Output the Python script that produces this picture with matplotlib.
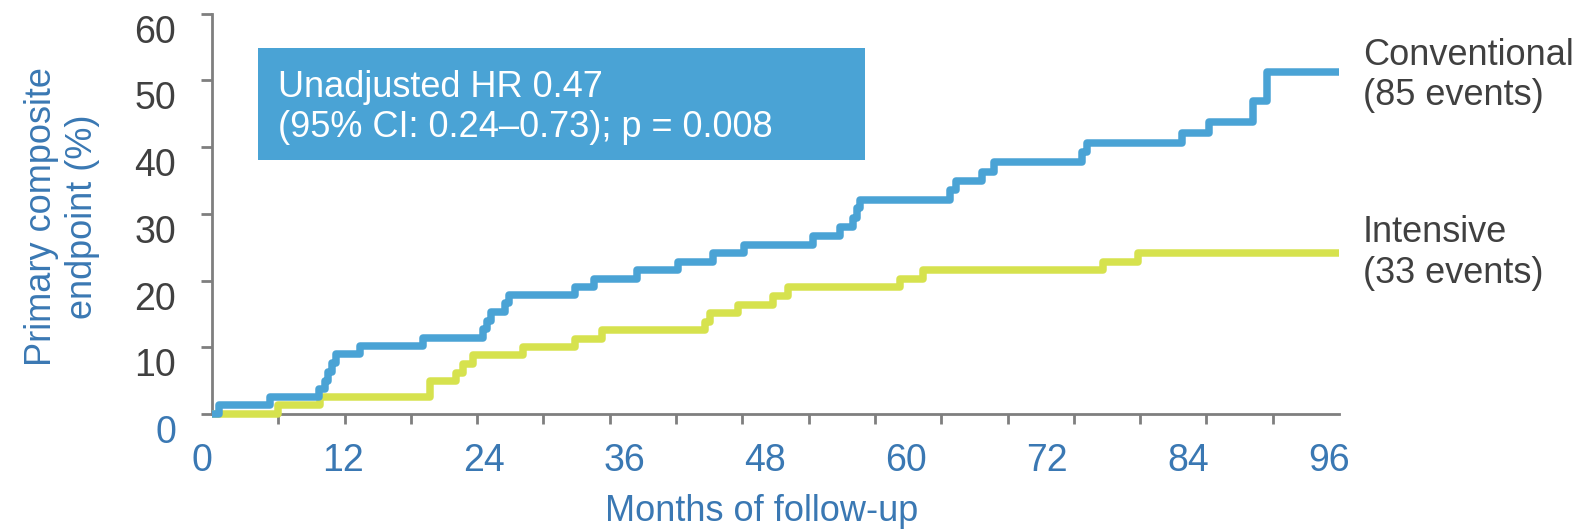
import numpy as np
import matplotlib
matplotlib.use("Agg")
from matplotlib import pyplot as plt
from matplotlib.patches import Rectangle
import matplotlib.transforms as mtransforms

plt.rcParams['font.family'] = ['Liberation Sans', 'DejaVu Sans']

# cumulative incidence (%) at each event time (months)
conv_months = [0, 0.6, 4.9, 9.1, 9.6, 9.9, 10.2, 10.6, 12.6, 18.0, 23.1, 23.4, 23.8,
               25.0, 25.3, 30.9, 32.5, 36.2, 39.7, 42.7, 45.3, 51.2, 53.5, 54.6, 54.9,
               55.2, 62.9, 63.4, 65.6, 66.6, 74.1, 74.5, 82.6, 84.9, 88.7, 89.9, 96]
conv_pct = [0, 1.3, 2.6, 3.7, 5.0, 6.3, 7.6, 9.0, 10.2, 11.4, 12.7, 14.0, 15.3,
            16.6, 17.8, 19.1, 20.3, 21.6, 22.8, 24.1, 25.3, 26.6, 28.0, 29.4, 30.8,
            32.1, 33.5, 34.9, 36.3, 37.8, 39.3, 40.6, 42.1, 43.8, 46.9, 51.2, 51.2]

int_months = [0, 5.65, 9.2, 18.6, 20.8, 21.4, 22.2, 26.5, 30.9, 33.2, 42.0, 42.4,
              44.8, 47.8, 49.1, 58.6, 60.6, 75.9, 78.9, 96]
int_pct = [0, 1.3, 2.6, 4.9, 6.2, 7.5, 8.8, 10.1, 11.3, 12.6, 13.8, 15.1,
           16.4, 17.7, 19.0, 20.3, 21.6, 22.8, 24.1, 24.1]

x_ticks = list(range(0, 97, 12))
y_ticks = list(range(0, 61, 10))

BLUE = '#4aa3d5'
GREEN = '#d6e24e'
AXBLUE = '#3a78b3'
GREY = '#404040'
SPINE = '#7f7f7f'
FS = 26
TICK_FS = 27

fig = plt.figure(figsize=(15.88, 5.31), dpi=100)
ax = fig.add_axes([0.1335, 0.2203, 0.7097, 0.7542])

ax.step(int_months, int_pct, where='post', color=GREEN, lw=5.4,
        solid_joinstyle='round', solid_capstyle='butt', clip_on=False, zorder=3)
ax.step(conv_months, conv_pct, where='post', color=BLUE, lw=5.4,
        solid_joinstyle='round', solid_capstyle='butt', clip_on=False, zorder=4)

ax.set_xlim(0, 96)
ax.set_ylim(0, 60)
for s in ['top', 'right']:
    ax.spines[s].set_visible(False)
for s in ['left', 'bottom']:
    ax.spines[s].set_color(SPINE)
    ax.spines[s].set_linewidth(2)

# x axis: labels every 12 months, tick marks on their own spacing
ax.set_xticks(x_ticks)
ax.set_xticklabels([str(v) for v in x_ticks])
ax.set_xticks(np.linspace(0, 96, 18), minor=True)
ax.tick_params(axis='x', which='major', length=0, pad=21, labelsize=TICK_FS, labelcolor=AXBLUE)
ax.tick_params(axis='x', which='minor', length=7, width=2, color=SPINE, direction='out')
xshift = mtransforms.ScaledTranslation(-10 / 100, 0, fig.dpi_scale_trans)
for lab in ax.get_xticklabels():
    lab.set_transform(lab.get_transform() + xshift)

# y labels sit a little below their tick marks
ax.set_yticks(y_ticks)
ax.set_yticklabels([str(v) for v in y_ticks])
ax.tick_params(axis='y', length=8, width=2, color=SPINE, pad=18, labelsize=TICK_FS, labelcolor=GREY)
yshift = mtransforms.ScaledTranslation(0, -15 / 100, fig.dpi_scale_trans)
for lab in ax.get_yticklabels():
    lab.set_transform(lab.get_transform() + yshift)
ax.get_yticklabels()[0].set_color(AXBLUE)

fig.text(0.039, 0.592, 'Primary composite\nendpoint (%)', rotation=90, ha='center',
         va='center', fontsize=FS, color=AXBLUE, linespacing=1.25)
fig.text(0.4795, 0.019, 'Months of follow-up', ha='center', va='baseline',
         fontsize=FS, color=AXBLUE)

# hazard ratio box
ax.add_patch(Rectangle((0.0408, 0.634), 0.539, 0.281, transform=ax.transAxes,
                       facecolor=BLUE, edgecolor='none', zorder=5, clip_on=False))
ax.text(0.0586, 0.765, 'Unadjusted HR 0.47\n(95% CI: 0.24\u20130.73); p = 0.008',
        transform=ax.transAxes, ha='left', va='center', fontsize=FS, color='white',
        linespacing=1.2, zorder=6)

ax.text(1.0213, 0.846, 'Conventional\n(85 events)', transform=ax.transAxes,
        ha='left', va='center', fontsize=FS, color=GREY, linespacing=1.2)
ax.text(1.0213, 0.402, 'Intensive\n(33 events)', transform=ax.transAxes,
        ha='left', va='center', fontsize=FS, color=GREY, linespacing=1.2)

plt.savefig('out.png', dpi=100)
